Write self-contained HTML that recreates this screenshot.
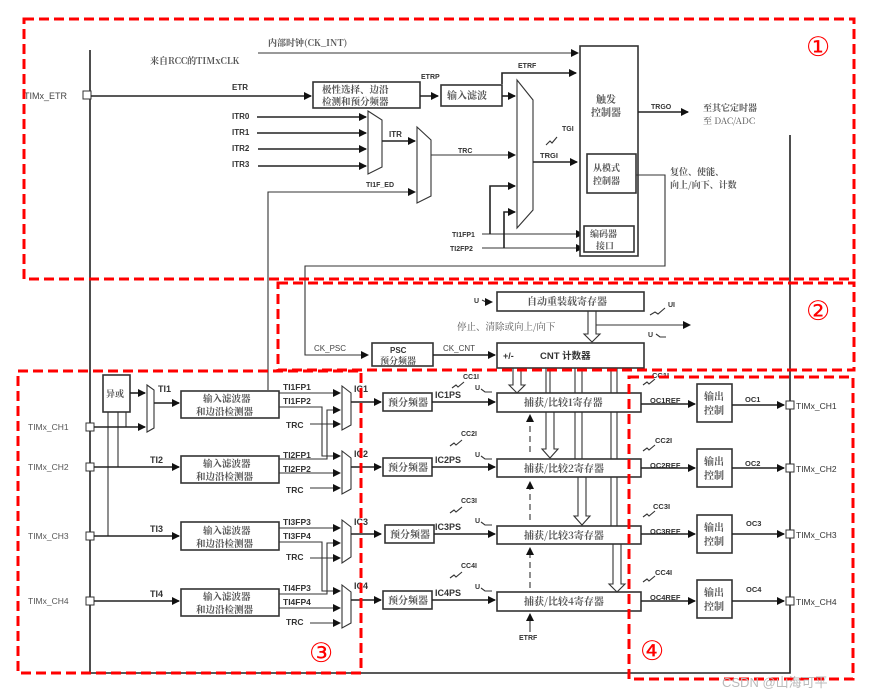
<!DOCTYPE html>
<html><head><meta charset="utf-8"><style>
html,body{margin:0;padding:0;background:#fff;}
svg{display:block;}
text{font-family:"Liberation Sans","Noto Sans CJK SC",sans-serif;fill:#333;}
.b{font-weight:bold;font-size:8px;}
.c{font-size:10px;fill:#555;font-family:"Noto Serif CJK SC","Liberation Serif",serif;font-weight:bold;}
.l{stroke:#222;stroke-width:1.6;fill:none;}
.t{stroke:#333;stroke-width:1.1;fill:none;}
.box{stroke:#333;stroke-width:1.6;fill:#fff;}
.red{stroke:#f00;stroke-width:3;fill:none;stroke-dasharray:10,5;}
.num{fill:#f00;font-size:27px;font-family:"DejaVu Sans",sans-serif;}
</style></head><body>
<svg width="875" height="699" viewBox="0 0 875 699" xmlns="http://www.w3.org/2000/svg">
<defs>
<marker id="a" markerWidth="8" markerHeight="8" refX="7" refY="4" orient="auto" markerUnits="userSpaceOnUse"><path d="M0,0 L8,4 L0,8z" fill="#111"/></marker>
</defs>

<path class="l" d="M90,50 V673 H790 V135" stroke-width="2"/>

<!-- section 1 -->
<text x="268" y="46" class="c" style="font-size:9px">内部时钟(CK_INT)</text>
<text x="150" y="64" class="c" style="font-size:9px">来自RCC的TIMxCLK</text>
<line class="t" x1="258" y1="53" x2="578" y2="53" marker-end="url(#a)"/>
<text x="24" y="99" style="font-size:9px;fill:#444">TIMx_ETR</text>
<rect x="83" y="91" width="8" height="8" fill="#fff" stroke="#333"/>
<line class="l" x1="91" y1="96" x2="311" y2="96" marker-end="url(#a)"/>
<text x="232" y="90" class="b">ETR</text>
<rect class="box" x="313" y="82" width="107" height="26"/>
<text x="322" y="93" class="c" style="font-size:9.5px">极性选择、边沿</text>
<text x="322" y="105" class="c" style="font-size:9.5px">检测和预分频器</text>
<line class="l" x1="420" y1="96" x2="438" y2="96" marker-end="url(#a)"/>
<text x="421" y="79" class="b" style="font-size:7px">ETRP</text>
<rect class="box" x="441" y="85" width="61" height="21"/>
<text x="447" y="99" class="c">输入滤波</text>
<line class="l" x1="502" y1="96" x2="515" y2="96" marker-end="url(#a)"/>
<path class="l" d="M502,84 V73 H576" marker-end="url(#a)"/>
<text x="518" y="68" class="b" style="font-size:7px">ETRF</text>
<path class="t" d="M517,80 L533,100 V210 L517,228 Z" fill="#fff" stroke-width="1.3"/>
<text x="232" y="119" class="b">ITR0</text><text x="232" y="135" class="b">ITR1</text><text x="232" y="151" class="b">ITR2</text><text x="232" y="167" class="b">ITR3</text>
<line class="l" x1="257" y1="117" x2="366" y2="117" marker-end="url(#a)"/>
<line class="l" x1="257" y1="133" x2="366" y2="133" marker-end="url(#a)"/>
<line class="l" x1="258" y1="149" x2="366" y2="149" marker-end="url(#a)"/>
<line class="l" x1="258" y1="166" x2="366" y2="166" marker-end="url(#a)"/>
<path class="t" d="M368,111 L382,120 V167 L368,174 Z" fill="#fff" stroke-width="1.3"/>
<line class="l" x1="382" y1="141" x2="415" y2="141" marker-end="url(#a)"/>
<text x="389" y="137" class="b">ITR</text>
<path class="t" d="M417,127 L431,140 V196 L417,203 Z" fill="#fff" stroke-width="1.3"/>
<text x="366" y="187" class="b" style="font-size:7px">TI1F_ED</text>
<path class="t" d="M268,390 V192 H415" marker-end="url(#a)"/>
<line class="t" x1="431" y1="155" x2="515" y2="155" marker-end="url(#a)"/>
<text x="458" y="153" class="b" style="font-size:7px">TRC</text>
<line class="l" x1="533" y1="162" x2="577" y2="162" marker-end="url(#a)"/>
<text x="540" y="158" class="b" style="font-size:7.5px">TRGI</text>
<text x="562" y="131" class="b" style="font-size:7px">TGI</text>
<path class="t" d="M546,145 l4,-4 l2,2 l5,-6"/>
<text x="452" y="237" class="b" style="font-size:7px">TI1FP1</text>
<text x="450" y="251" class="b" style="font-size:7px">TI2FP2</text>
<line class="t" x1="482" y1="234" x2="583" y2="234" marker-end="url(#a)"/>
<line class="t" x1="482" y1="248" x2="583" y2="248" marker-end="url(#a)"/>
<path class="l" d="M490,234 V186 H515" marker-end="url(#a)"/>
<path class="l" d="M504,248 V212 H515" marker-end="url(#a)"/>
<rect class="box" x="580" y="46" width="58" height="210" stroke-width="1.3"/>
<text x="596" y="103" class="c">触发</text><text x="591" y="116" class="c">控制器</text>
<rect class="box" x="587" y="154" width="49" height="39"/>
<text x="593" y="171" class="c" style="font-size:9px">从模式</text><text x="593" y="184" class="c" style="font-size:9px">控制器</text>
<rect class="box" x="584" y="226" width="50" height="26"/>
<text x="590" y="237" class="c" style="font-size:9px">编码器</text><text x="596" y="249" class="c" style="font-size:9px">接口</text>
<line class="l" x1="638" y1="112" x2="688" y2="112" marker-end="url(#a)"/>
<text x="651" y="109" class="b" style="font-size:7px">TRGO</text>
<text x="703" y="111" class="c" style="font-size:9px">至其它定时器</text>
<text x="703" y="124" class="c" style="font-size:9px;font-weight:normal">至 DAC/ADC</text>
<text x="670" y="175" class="c" style="font-size:9px">复位、使能、</text>
<text x="670" y="188" class="c" style="font-size:9px">向上/向下、计数</text>
<path class="t" d="M636,175 H665 V266 H305 V355 H368" marker-end="url(#a)"/>

<!-- section 2 -->
<text x="474" y="303" style="font-size:7px;font-weight:bold">U</text>
<path class="t" d="M482,300 l4,2 l6,0" marker-end="url(#a)"/>
<rect class="box" x="497" y="292" width="147" height="19"/>
<text x="527" y="305" class="c">自动重装载寄存器</text>
<text x="457" y="330" class="c" style="font-size:9.5px;font-weight:normal">停止、清除或向上/向下</text>
<path class="t" d="M588,311 V334 H584 L592,342 L600,334 H596 V311" fill="#fff"/>
<line class="t" x1="596" y1="325" x2="690" y2="325" marker-end="url(#a)"/>
<text x="668" y="307" class="b" style="font-size:7px">UI</text>
<path class="t" d="M650,315 l5,-3 l3,2 l7,-6"/>
<text x="648" y="337" class="b" style="font-size:7px">U</text>
<path class="t" d="M656,334 l4,3 l6,0"/>
<text x="314" y="351" style="font-size:8px;fill:#444">CK_PSC</text>
<rect class="box" x="372" y="343" width="61" height="23"/>
<text x="390" y="353" class="b">PSC</text><text x="380" y="364" class="c" style="font-size:9px">预分频器</text>
<line class="l" x1="433" y1="355" x2="495" y2="355" marker-end="url(#a)"/>
<text x="443" y="351" style="font-size:8px;fill:#444">CK_CNT</text>
<rect class="box" x="497" y="343" width="147" height="25"/>
<text x="503" y="359" class="b" style="font-size:9px">+/-</text>
<text x="540" y="359" class="b" style="font-size:9.5px">CNT 计数器</text>

<path class="t" d="M513,368 V385 H509 L517,393 L525,385 H521 V368" fill="#fff"/>
<path class="t" d="M546,368 V393 M550,368 V393 M546,412 V449 H542 L550,458 L558,449 H554 V412" fill="#fff"/>
<path class="t" d="M575,368 V393 M582,368 V393 M575,412 V460 M582,412 V460 M578,477 V516 H574 L582,525 L590,516 H586 V477" fill="#fff"/>
<path class="t" d="M611,368 V393 M617,368 V393 M611,412 V460 M617,412 V460 M611,477 V527 M617,477 V527 M613,544 V584 H609 L617,592 L625,584 H621 V544" fill="#fff"/>
<path class="t" d="M530,452 V415" stroke-dasharray="6,4" marker-end="url(#a)"/>
<path class="t" d="M530,520 V482" stroke-dasharray="6,4" marker-end="url(#a)"/>
<path class="t" d="M530,588 V548" stroke-dasharray="6,4" marker-end="url(#a)"/>
<line class="t" x1="530" y1="632" x2="530" y2="614" marker-end="url(#a)"/>
<text x="519" y="640" class="b" style="font-size:7px">ETRF</text>

<!-- section 3 -->
<text x="28" y="430" style="font-size:8.5px;fill:#555">TIMx_CH1</text>
<text x="28" y="470" style="font-size:8.5px;fill:#555">TIMx_CH2</text>
<text x="28" y="539" style="font-size:8.5px;fill:#555">TIMx_CH3</text>
<text x="28" y="604" style="font-size:8.5px;fill:#555">TIMx_CH4</text>
<rect x="86" y="423" width="8" height="8" fill="#fff" stroke="#333"/>
<rect x="86" y="463" width="8" height="8" fill="#fff" stroke="#333"/>
<rect x="86" y="532" width="8" height="8" fill="#fff" stroke="#333"/>
<rect x="86" y="597" width="8" height="8" fill="#fff" stroke="#333"/>
<rect class="box" x="103" y="375" width="27" height="37"/>
<text x="106" y="397" class="c" style="font-size:9px">异或</text>
<path class="t" d="M108,412 V536 M118,412 V467 M126,412 V427"/>
<line class="l" x1="130" y1="393" x2="145" y2="393" marker-end="url(#a)"/>
<line class="l" x1="94" y1="427" x2="145" y2="427" marker-end="url(#a)"/>
<path class="t" d="M147,385 L154,390 V428 L147,432 Z" fill="#fff"/>
<line class="l" x1="154" y1="403" x2="179" y2="403" marker-end="url(#a)"/>
<text x="158" y="392" class="b" style="font-size:9px">TI1</text>
<line class="l" x1="94" y1="467" x2="179" y2="467" marker-end="url(#a)"/>
<text x="150" y="463" class="b" style="font-size:9px">TI2</text>
<line class="l" x1="94" y1="536" x2="179" y2="536" marker-end="url(#a)"/>
<text x="150" y="532" class="b" style="font-size:9px">TI3</text>
<line class="l" x1="94" y1="601" x2="179" y2="601" marker-end="url(#a)"/>
<text x="150" y="597" class="b" style="font-size:9px">TI4</text>

<rect class="box" x="181" y="391" width="98" height="27"/><text x="203" y="402" class="c" style="font-size:9.5px">输入滤波器</text><text x="196" y="415" class="c" style="font-size:9.5px">和边沿检测器</text>
<rect class="box" x="181" y="456" width="98" height="27"/><text x="203" y="467" class="c" style="font-size:9.5px">输入滤波器</text><text x="196" y="480" class="c" style="font-size:9.5px">和边沿检测器</text>
<rect class="box" x="181" y="522" width="98" height="28"/><text x="203" y="534" class="c" style="font-size:9.5px">输入滤波器</text><text x="196" y="547" class="c" style="font-size:9.5px">和边沿检测器</text>
<rect class="box" x="181" y="589" width="98" height="27"/><text x="203" y="600" class="c" style="font-size:9.5px">输入滤波器</text><text x="196" y="613" class="c" style="font-size:9.5px">和边沿检测器</text>

<g class="b" style="font-size:8.5px">
<text x="283" y="390">TI1FP1</text><text x="283" y="404">TI1FP2</text><text x="286" y="428">TRC</text>
<text x="283" y="458">TI2FP1</text><text x="283" y="472">TI2FP2</text><text x="286" y="493">TRC</text>
<text x="283" y="525">TI3FP3</text><text x="283" y="539">TI3FP4</text><text x="286" y="560">TRC</text>
<text x="283" y="591">TI4FP3</text><text x="283" y="605">TI4FP4</text><text x="286" y="625">TRC</text>
</g>
<!-- IC1 mux inputs -->
<line class="t" x1="279" y1="393" x2="340" y2="393" marker-end="url(#a)"/>
<path class="t" d="M279,459 H327 V410 H340" marker-end="url(#a)"/>
<line class="t" x1="310" y1="424" x2="340" y2="424" marker-end="url(#a)"/>
<!-- IC2 -->
<path class="t" d="M279,407 H322 V456 H340" marker-end="url(#a)"/>
<line class="t" x1="279" y1="473" x2="340" y2="473" marker-end="url(#a)"/>
<line class="t" x1="310" y1="488" x2="340" y2="488" marker-end="url(#a)"/>
<!-- IC3 -->
<line class="t" x1="279" y1="528" x2="340" y2="528" marker-end="url(#a)"/>
<path class="t" d="M279,594 H327 V543 H340" marker-end="url(#a)"/>
<line class="t" x1="310" y1="558" x2="340" y2="558" marker-end="url(#a)"/>
<!-- IC4 -->
<path class="t" d="M279,542 H322 V591 H340" marker-end="url(#a)"/>
<line class="t" x1="279" y1="608" x2="340" y2="608" marker-end="url(#a)"/>
<line class="t" x1="310" y1="623" x2="340" y2="623" marker-end="url(#a)"/>
<path class="t" d="M342,386 L351,393 V425 L342,430 Z" fill="#fff"/>
<path class="t" d="M342,451 L351,458 V489 L342,494 Z" fill="#fff"/>
<path class="t" d="M342,520 L351,527 V557 L342,563 Z" fill="#fff"/>
<path class="t" d="M342,585 L351,592 V623 L342,628 Z" fill="#fff"/>
<g class="b" style="font-size:9px"><text x="354" y="392">IC1</text><text x="354" y="457">IC2</text><text x="354" y="525">IC3</text><text x="354" y="589">IC4</text></g>
<line class="l" x1="351" y1="402" x2="381" y2="402" marker-end="url(#a)"/>
<line class="l" x1="351" y1="467" x2="381" y2="467" marker-end="url(#a)"/>
<line class="l" x1="351" y1="534" x2="381" y2="534" marker-end="url(#a)"/>
<line class="l" x1="351" y1="600" x2="381" y2="600" marker-end="url(#a)"/>

<rect class="box" x="383" y="393" width="49" height="18"/><text x="388" y="406" class="c">预分频器</text>
<rect class="box" x="383" y="458" width="49" height="18"/><text x="388" y="471" class="c">预分频器</text>
<rect class="box" x="385" y="525" width="49" height="18"/><text x="390" y="538" class="c">预分频器</text>
<rect class="box" x="383" y="591" width="49" height="18"/><text x="388" y="604" class="c">预分频器</text>
<g class="b" style="font-size:9px"><text x="435" y="398">IC1PS</text><text x="435" y="463">IC2PS</text><text x="435" y="530">IC3PS</text><text x="435" y="596">IC4PS</text></g>
<line class="l" x1="432" y1="402" x2="495" y2="402" marker-end="url(#a)"/>
<line class="l" x1="432" y1="467" x2="495" y2="467" marker-end="url(#a)"/>
<line class="l" x1="434" y1="534" x2="495" y2="534" marker-end="url(#a)"/>
<line class="l" x1="432" y1="600" x2="495" y2="600" marker-end="url(#a)"/>
<g class="b" style="font-size:7px">
<text x="463" y="379">CC1I</text><text x="461" y="436">CC2I</text><text x="461" y="503">CC3I</text><text x="461" y="568">CC4I</text>
<text x="475" y="390">U</text><text x="475" y="457">U</text><text x="475" y="523">U</text><text x="475" y="589">U</text>
</g>
<path class="t" d="M452,388 l4,-3 l2,2 l6,-5 M450,446 l4,-3 l2,2 l6,-5 M450,513 l4,-3 l2,2 l6,-5 M450,578 l4,-3 l2,2 l6,-5"/>
<path class="t" d="M481,389 l4,3 h7 M481,456 l4,3 h7 M481,522 l4,3 h7 M481,588 l4,3 h7"/>
<rect class="box" x="497" y="393" width="144" height="19"/><text x="524" y="406" class="c">捕获/比较1寄存器</text>
<rect class="box" x="497" y="459" width="144" height="18"/><text x="524" y="472" class="c">捕获/比较2寄存器</text>
<rect class="box" x="497" y="526" width="144" height="18"/><text x="524" y="539" class="c">捕获/比较3寄存器</text>
<rect class="box" x="497" y="592" width="144" height="19"/><text x="524" y="605" class="c">捕获/比较4寄存器</text>

<g class="b" style="font-size:7.5px">
<text x="650" y="403">OC1REF</text><text x="650" y="468">OC2REF</text><text x="650" y="534">OC3REF</text><text x="650" y="600">OC4REF</text>
<text x="652" y="378">CC1I</text><text x="655" y="443">CC2I</text><text x="653" y="509">CC3I</text><text x="655" y="575">CC4I</text>
<text x="745" y="402">OC1</text><text x="745" y="466">OC2</text><text x="746" y="526">OC3</text><text x="746" y="592">OC4</text>
</g>
<path class="t" d="M643,385 l4,-3 l2,2 l6,-5 M643,451 l4,-3 l2,2 l6,-5 M643,517 l4,-3 l2,2 l6,-5 M643,582 l4,-3 l2,2 l6,-5"/>
<line class="l" x1="641" y1="404" x2="695" y2="404" marker-end="url(#a)"/>
<line class="l" x1="641" y1="468" x2="695" y2="468" marker-end="url(#a)"/>
<line class="l" x1="641" y1="534" x2="695" y2="534" marker-end="url(#a)"/>
<line class="l" x1="641" y1="601" x2="695" y2="601" marker-end="url(#a)"/>
<rect class="box" x="697" y="384" width="35" height="38"/><text x="704" y="400" class="c">输出</text><text x="704" y="414" class="c">控制</text>
<rect class="box" x="697" y="449" width="35" height="38"/><text x="704" y="465" class="c">输出</text><text x="704" y="479" class="c">控制</text>
<rect class="box" x="697" y="515" width="35" height="38"/><text x="704" y="531" class="c">输出</text><text x="704" y="545" class="c">控制</text>
<rect class="box" x="697" y="580" width="35" height="38"/><text x="704" y="596" class="c">输出</text><text x="704" y="610" class="c">控制</text>
<line class="l" x1="732" y1="405" x2="784" y2="405" marker-end="url(#a)"/>
<line class="l" x1="732" y1="468" x2="784" y2="468" marker-end="url(#a)"/>
<line class="l" x1="732" y1="534" x2="784" y2="534" marker-end="url(#a)"/>
<line class="l" x1="732" y1="601" x2="784" y2="601" marker-end="url(#a)"/>
<rect x="786" y="401" width="8" height="8" fill="#fff" stroke="#333"/>
<rect x="786" y="464" width="8" height="8" fill="#fff" stroke="#333"/>
<rect x="786" y="530" width="8" height="8" fill="#fff" stroke="#333"/>
<rect x="786" y="597" width="8" height="8" fill="#fff" stroke="#333"/>
<g style="font-size:8.5px"><text x="796" y="409">TIMx_CH1</text><text x="796" y="472">TIMx_CH2</text><text x="796" y="538">TIMx_CH3</text><text x="796" y="605">TIMx_CH4</text></g>

<rect class="red" x="24" y="19" width="830" height="260"/>
<rect class="red" x="278" y="283" width="576" height="87"/>
<rect class="red" x="18" y="371" width="343" height="302"/>
<rect class="red" x="629" y="377" width="224" height="302"/>
<text x="806" y="56" class="num">①</text>
<text x="806" y="320" class="num">②</text>
<text x="309" y="662" class="num">③</text>
<text x="640" y="660" class="num">④</text>

<text x="722" y="687" style="font-size:13px;fill:#bbb">CSDN @山海可平</text>
</svg>
</body></html>
